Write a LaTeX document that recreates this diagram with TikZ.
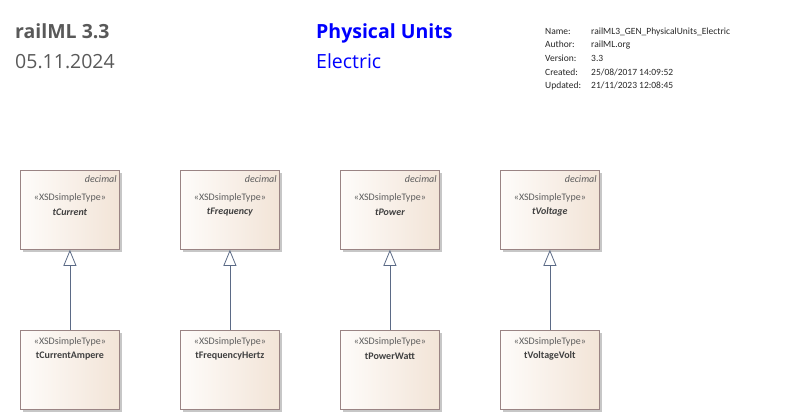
\documentclass[tikz,border=0pt]{standalone}
\usepackage{fontspec}
\setmainfont{Open Sans}
\newfontfamily\eafont{Carlito}
\usetikzlibrary{arrows.meta,positioning,shadows}

\definecolor{eaborder}{HTML}{9A8484}
\definecolor{ealight}{HTML}{FEFCFA}
\definecolor{eatan}{HTML}{F2E4D7}
\definecolor{ealine}{HTML}{5B6A86}
\definecolor{eahead}{HTML}{595959}
\definecolor{eatext}{HTML}{404040}

\tikzset{
  typebox/.style={draw=eaborder,line width=0.8pt,left color=ealight,right color=eatan,
    minimum width=99pt,minimum height=79pt,inner sep=0pt,anchor=north west,
    drop shadow={shadow xshift=2.5pt,shadow yshift=-2.5pt,fill=black!22,opacity=1}},
  stereo/.style={font=\eafont\fontsize{10}{12}\selectfont,text=eatext!85,inner sep=0pt},
  tname/.style={font=\eafont\fontsize{10}{12}\selectfont\bfseries,text=eatext,inner sep=0pt},
  meta/.style={font=\eafont\fontsize{9.5}{11}\selectfont,text=black!85,inner sep=0pt,anchor=base west},
  genline/.style={draw=ealine,line width=0.8pt,
    -{Triangle[open,length=16pt,width=13pt,line width=0.8pt]}}
}

\begin{document}
\begin{tikzpicture}[x=1pt,y=-1pt]
  \useasboundingbox (0,0) rectangle (800,420);
  % header
  \node [anchor=base west,inner sep=0pt,text=eahead,font=\fontsize{19.5}{23}\selectfont\bfseries]
        (model) at (15,39) {railML 3.3};
  \node [anchor=base west,inner sep=0pt,text=eahead,font=\fontsize{19.5}{23}\selectfont]
        (date) at (15,68) {05.11.2024};
  \node [anchor=base west,inner sep=0pt,text=blue,font=\fontsize{19.5}{23}\selectfont\bfseries]
        (title) at (316,39) {Physical Units};
  \node [anchor=base west,inner sep=0pt,text=blue,font=\fontsize{19.5}{23}\selectfont]
        (subtitle) at (316,68) {Electric};
  % diagram properties
  \foreach \key/\val [count=\i] in {Name:/railML3\_GEN\_PhysicalUnits\_Electric,
      Author:/railML.org, Version:/3.3, Created:/{25/08/2017 14:09:52},
      Updated:/{21/11/2023 12:08:45}}{
    \node [meta] (key\i) at (545,{21+13.5*\i}) {\key};
    \node [meta] (val\i) at (591,{21+13.5*\i}) {\val};
  }
  % simple types and their restrictions
  \foreach \base/\unit [count=\i] in {Current/Ampere,Frequency/Hertz,Power/Watt,Voltage/Volt}{
    \node [typebox] (t\i) at ({20+160*(\i-1)},170) {};
    \node [stereo,anchor=north east,font=\eafont\fontsize{10}{12}\selectfont\itshape]
          (d\i) at ([xshift=-3pt,yshift=-5pt]t\i.north east) {decimal};
    \node [stereo] (ts\i) at ([yshift=-28pt]t\i.north) {«XSDsimpleType»};
    \node [tname,font=\eafont\fontsize{10}{12}\selectfont\bfseries\itshape]
          (tn\i) at ([yshift=-42pt]t\i.north) {t\base};
    \node [typebox] (b\i) at ({20+160*(\i-1)},330) {};
    \node [stereo] (bs\i) at ([yshift=-12pt]b\i.north) {«XSDsimpleType»};
    \node [tname] (bn\i) at ([yshift=-26pt]b\i.north) {t\base\unit};
    \draw [genline] (b\i.north) -- (t\i.south);
  }
\end{tikzpicture}
\end{document}
